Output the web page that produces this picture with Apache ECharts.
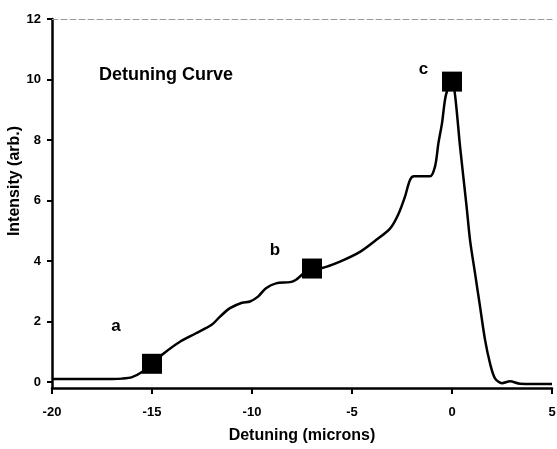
<!DOCTYPE html>
<html>
<head>
<meta charset="utf-8">
<script src="https://cdn.jsdelivr.net/npm/echarts@6/dist/echarts.min.js"></script>
<style>
  html, body { margin: 0; padding: 0; background: #fff; }
  #chart { width: 557px; height: 449px; }
</style>
</head>
<body>
<div id="chart"></div>
<script>
// detuning curve
var detuning = [-20, -17, -16.5, -16, -15.5, -15, -14.4, -13.6, -12.8, -12, -11.6, -11.1, -10.5, -10.1,
  -9.7, -9.3, -8.8, -8.1, -7.8, -7.4, -7, -6.5, -5.6, -4.6, -3.8, -3.1, -2.7, -2.35, -2.1, -1.9,
  -1.1, -0.85, -0.68, -0.5, -0.3, 0, 0.15, 0.4, 0.73, 0.9, 1.15, 1.4, 1.65, 1.9, 2.15, 2.5, 2.9, 3.4, 5];
var intensity = [0.1, 0.1, 0.11, 0.16, 0.33, 0.6, 0.95, 1.33, 1.61, 1.9, 2.16, 2.44, 2.62, 2.66,
  2.82, 3.1, 3.26, 3.3, 3.38, 3.6, 3.75, 3.77, 3.98, 4.3, 4.69, 5.07, 5.52, 6.13, 6.68, 6.8,
  6.8, 7.12, 7.89, 8.55, 9.5, 9.93, 9.5, 7.8, 5.8, 4.7, 3.6, 2.5, 1.4, 0.62, 0.12, -0.04, 0.02, -0.06, -0.07];

// marked points a, b, c
var markX = [-15, -7, 0];
var markY = [0.6, 3.75, 9.93];
var markNames = ['a', 'b', 'c'];
var labelX = [-16.8, -8.85, -1.43];
var labelY = [1.85, 4.35, 10.35];

var yTicks = [0, 2, 4, 6, 8, 10, 12];

var font = 'Liberation Sans';
var chart = echarts.init(document.getElementById('chart'));

var curve = detuning.map(function (x, i) { return [x, intensity[i]]; });
var marks = markX.map(function (x, i) { return [x, markY[i]]; });
var labels = labelX.map(function (x, i) { return { value: [x, labelY[i]], name: markNames[i] }; });

var option = {
  animation: false,
  title: {
    text: 'Detuning Curve',
    left: 94,
    top: 61,
    textStyle: { fontFamily: font, fontSize: 18, fontWeight: 'bold', color: '#000' }
  },
  // y axis title, sits a bit above the middle of the axis
  graphic: [{
    type: 'text',
    x: 15,
    y: 181,
    rotation: Math.PI / 2,
    style: {
      text: 'Intensity (arb.)',
      font: 'bold 16px "Liberation Sans"',
      fill: '#000',
      align: 'center',
      verticalAlign: 'middle'
    }
  }],
  grid: { left: 52, right: 5, top: 19, bottom: 61, outerBoundsMode: 'none' },
  xAxis: [{
    type: 'value',
    min: -20,
    max: 5,
    interval: 5,
    name: 'Detuning (microns)',
    nameLocation: 'middle',
    nameGap: 40,
    nameTextStyle: { fontFamily: font, fontSize: 16, fontWeight: 'bold', color: '#000' },
    axisLine: { show: true, onZero: false, lineStyle: { color: '#000', width: 2.5 } },
    axisTick: { show: true, length: 6, lineStyle: { color: '#000', width: 2 } },
    axisLabel: { margin: 18, fontFamily: font, fontSize: 13, fontWeight: 'bold', color: '#000' },
    splitLine: { show: false }
  }, {
    type: 'value',
    position: 'top',
    min: -20,
    max: 5,
    axisLine: { show: true, onZero: false, lineStyle: { color: '#999', width: 1, type: [6, 3] } },
    axisTick: { show: false },
    axisLabel: { show: false },
    splitLine: { show: false }
  }],
  yAxis: {
    type: 'value',
    min: -0.2,
    max: 12,
    axisLine: { show: true, onZero: false, lineStyle: { color: '#000', width: 2.5 } },
    axisTick: { show: true, length: 5, customValues: yTicks, lineStyle: { color: '#000', width: 2 } },
    axisLabel: { margin: 11, customValues: yTicks, fontFamily: font, fontSize: 13, fontWeight: 'bold', color: '#000' },
    splitLine: { show: false }
  },
  series: [{
    type: 'line',
    data: curve,
    smooth: 0.3,
    symbol: 'none',
    lineStyle: { color: '#000', width: 2.5 }
  }, {
    type: 'scatter',
    data: marks,
    symbol: 'rect',
    symbolSize: 20,
    itemStyle: { color: '#000', opacity: 1 },
    z: 5
  }, {
    type: 'scatter',
    data: labels,
    symbolSize: 0,
    itemStyle: { opacity: 1 },
    label: {
      show: true,
      position: 'inside',
      formatter: '{b}',
      fontFamily: font,
      fontSize: 17,
      fontWeight: 'bold',
      color: '#000'
    }
  }]
};
chart.setOption(option);
</script>
</body>
</html>
